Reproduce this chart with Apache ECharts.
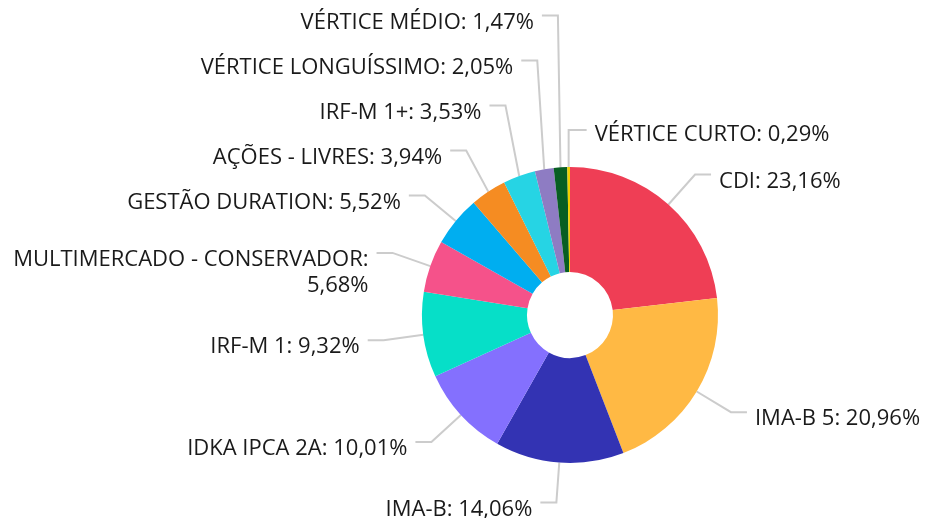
<!DOCTYPE html>
<html>
<head>
<meta charset="utf-8">
<script src="https://cdn.jsdelivr.net/npm/echarts@6/dist/echarts.min.js"></script>
<style>
  html, body { margin: 0; padding: 0; background: #fff; }
  #chart { width: 925px; height: 518px; }
</style>
</head>
<body>
<div id="chart"></div>
<script>
const categories = [
  'CDI', 'IMA-B 5', 'IMA-B', 'IDKA IPCA 2A', 'IRF-M 1',
  'MULTIMERCADO - CONSERVADOR', 'GESTÃO DURATION', 'AÇÕES - LIVRES',
  'IRF-M 1+', 'VÉRTICE LONGUÍSSIMO', 'VÉRTICE MÉDIO', 'VÉRTICE CURTO'
];
const values = [23.16, 20.96, 14.06, 10.01, 9.32, 5.68, 5.52, 3.94, 3.53, 2.05, 1.47, 0.29];
const colors = [
  '#ef3e55', '#ffb944', '#3333b3', '#8470fe', '#06dfc8', '#f5528a',
  '#00aef0', '#f58c22', '#26d4e4', '#8e7cc3', '#075e22', '#f0d000'
];

const LINE_H = 26;
const GAP = 45;      // distance between stacked label rows
const TEXT_DX = 8;   // text distance from end of label line
const TEXT_DY = 7;   // text sits a bit lower than its line

const fmt = (v) => v.toFixed(2).replace('.', ',') + '%';
const labelText = (name, v) =>
  name === 'MULTIMERCADO - CONSERVADOR' ? name + ':\n' + fmt(v) : name + ': ' + fmt(v);

const chart = echarts.init(document.getElementById('chart'));

// left side labels get pushed upwards when they collide (walks bottom -> top)
let prevY = Infinity;
const layoutLabel = (params) => {
  const i = params.dataIndex;
  const pts = params.labelLinePoints;
  if (!pts) return {};
  if (i === 0) prevY = Infinity;
  const [p0, p1, p2] = pts;
  const extra = (labelText(categories[i], values[i]).split('\n').length - 1) * LINE_H;

  if (i === categories.length - 1) {
    // tiny last slice sits just left of 12 o'clock; the original puts its label on the right
    const y = p0[1] - 37;
    return {
      x: p0[0] + 18 + TEXT_DX,
      y: y + TEXT_DY - 2,
      align: 'left',
      verticalAlign: 'middle',
      labelLinePoints: [p0, [p0[0], y], [p0[0] + 18, y]],
    };
  }

  const left = p2[0] < p1[0];
  let y = p1[1];
  if (left) {
    y = Math.min(y, prevY - GAP - extra);
    prevY = y;
  }
  const x2 = p2[0];
  return {
    x: left ? x2 - TEXT_DX : x2 + TEXT_DX,
    y: (extra ? y - LINE_H / 2 : y) + TEXT_DY,
    align: left ? 'right' : 'left',
    verticalAlign: extra ? 'top' : 'middle',
    labelLinePoints: [p0, [p1[0], y], [x2, y]],
  };
};

chart.setOption({
  backgroundColor: '#fff',
  animation: false,
  series: [
    {
      type: 'pie',
      center: [570, 315],
      radius: [43, 148],
      startAngle: 90,
      clockwise: true,
      avoidLabelOverlap: false,
      data: categories.map((name, i) => ({
        name: name,
        value: values[i],
        itemStyle: { color: colors[i] },
      })),
      label: {
        fontFamily: 'Open Sans',
        fontSize: 22,
        color: '#1a1a1a',
        lineHeight: LINE_H,
        overflow: 'none',
        formatter: (p) => labelText(p.name, p.value),
      },
      labelLine: {
        length: 40,
        length2: 16,
        lineStyle: { color: '#ccc', width: 2 },
      },
      labelLayout: layoutLabel,
    },
  ],
});
</script>
</body>
</html>
